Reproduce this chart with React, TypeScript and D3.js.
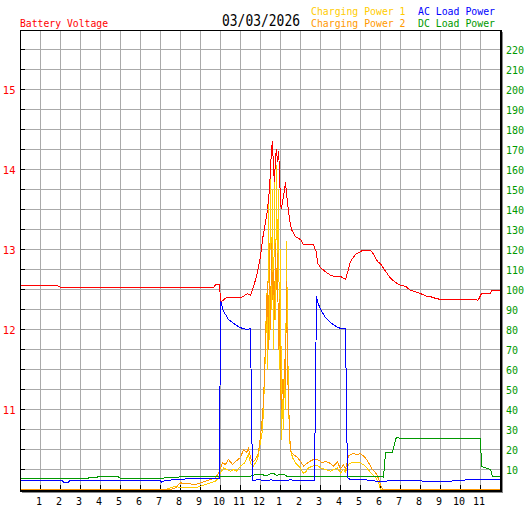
import * as d3 from 'd3'

// hour of day -> value
const voltage: [number, number][] = [
  [0, 12.55], [1.85, 12.55], [1.9, 12.535], [2.1, 12.525], [9.65, 12.525], [9.75, 12.56],
  [9.95, 12.56], [10.0, 12.37], [10.05, 12.35], [10.3, 12.4], [11.0, 12.4], [11.15, 12.415],
  [11.35, 12.45], [11.5, 12.425], [11.65, 12.54], [11.8, 12.66], [12.0, 12.91], [12.1, 13.125],
  [12.25, 13.34], [12.35, 13.5], [12.45, 13.75], [12.5, 14.0], [12.55, 14.25], [12.6, 14.35],
  [12.65, 14.0], [12.7, 13.84], [12.75, 14.16], [12.8, 14.25], [12.85, 14.1], [12.9, 14.23],
  [12.95, 14.0], [13.0, 13.54], [13.05, 13.52], [13.15, 13.66], [13.25, 13.84], [13.3, 13.7],
  [13.45, 13.375], [13.55, 13.25], [13.75, 13.16], [14.0, 13.125], [14.15, 13.06], [14.65, 13.06],
  [14.8, 12.96], [14.85, 12.83], [15.0, 12.775], [15.25, 12.72], [15.5, 12.68], [15.75, 12.66],
  [16.0, 12.665], [16.25, 12.625], [16.35, 12.71], [16.5, 12.85], [16.75, 12.94], [17.0, 12.97],
  [17.1, 12.99], [17.5, 12.99], [17.65, 12.94], [17.85, 12.85], [18.0, 12.82], [18.25, 12.73],
  [18.5, 12.64], [18.75, 12.59], [19.0, 12.55], [19.25, 12.54], [19.5, 12.49], [19.75, 12.47],
  [20.0, 12.45], [20.25, 12.42], [20.5, 12.41], [20.75, 12.39], [21.0, 12.375], [22.8, 12.375],
  [22.85, 12.36], [22.9, 12.375], [23.05, 12.45], [23.5, 12.45], [23.55, 12.49], [24, 12.49],
]

const chargingPower1: [number, number][] = [
  [0, 0], [7.25, 0], [7.5, 0.8], [7.75, 1.7], [8.0, 0.8], [8.75, 0.8], [9.0, 1.7], [9.25, 2.5],
  [9.5, 3.3], [9.75, 4.2], [9.9, 5.8], [10.0, 8.3], [10.15, 10.8], [10.3, 10], [10.5, 9.2],
  [10.65, 10], [10.8, 9.2], [11.0, 11.7], [11.2, 13.3], [11.4, 17.5], [11.5, 13], [11.65, 11.7],
  [11.85, 15], [12.0, 23.5], [12.1, 30], [12.15, 40], [12.2, 55], [12.25, 70], [12.3, 98],
  [12.35, 60], [12.4, 144], [12.45, 75], [12.5, 164], [12.55, 90], [12.6, 150], [12.65, 70],
  [12.7, 158], [12.75, 85], [12.8, 162], [12.85, 110], [12.9, 150], [12.95, 60], [13.0, 120],
  [13.05, 25], [13.1, 45], [13.15, 30], [13.2, 60], [13.25, 40], [13.3, 124], [13.35, 80],
  [13.4, 45], [13.45, 26], [13.5, 20], [13.6, 16], [13.75, 13.3], [14.0, 10.8], [14.15, 8],
  [14.25, 8.7], [14.4, 10.8], [14.6, 11.7], [14.85, 12], [15.0, 10.8], [15.25, 10], [15.5, 9.2],
  [15.65, 10], [15.85, 10.8], [16.0, 8.3], [16.15, 10], [16.25, 8.7], [16.4, 12.5], [16.6, 13.7],
  [16.85, 13.3], [17.0, 13.3], [17.25, 11.7], [17.5, 8.5], [17.75, 6], [17.9, 3.5], [18.0, 0],
  [24, 0],
]

const chargingPower2: [number, number][] = [
  [0, 0], [7.5, 0], [7.75, 0.8], [7.9, 2.5], [8.0, 3.3], [8.75, 2.5], [9.0, 3.3], [9.25, 4.2],
  [9.5, 5], [9.75, 5.8], [9.9, 8.3], [10.0, 10.8], [10.1, 13.3], [10.25, 12.5], [10.4, 15],
  [10.6, 12.5], [10.75, 14], [11.0, 16], [11.15, 20], [11.3, 18.5], [11.4, 20.5], [11.5, 16],
  [11.6, 13.5], [11.75, 15], [11.9, 18.5], [12.0, 26.5], [12.1, 36.5], [12.15, 45], [12.2, 57],
  [12.25, 75], [12.3, 90], [12.35, 104], [12.4, 70], [12.45, 123], [12.5, 80], [12.55, 123],
  [12.6, 95], [12.65, 110], [12.7, 85], [12.75, 123], [12.8, 100], [12.85, 118], [12.9, 70],
  [12.95, 95], [13.0, 50], [13.05, 40], [13.1, 55], [13.15, 45], [13.2, 65], [13.25, 50],
  [13.3, 104], [13.35, 60], [13.4, 45], [13.45, 30], [13.5, 19], [13.65, 17.5], [13.85, 16],
  [14.0, 14], [14.15, 11.7], [14.25, 12.5], [14.4, 13.7], [14.65, 15], [14.9, 14.7], [15.1, 13.3],
  [15.25, 14.2], [15.5, 13], [15.65, 11.7], [15.85, 13.7], [16.0, 10.3], [16.15, 12.5], [16.25, 10],
  [16.4, 16.7], [16.6, 18], [16.85, 17.5], [17.0, 18], [17.25, 15.8], [17.4, 13.5], [17.6, 10],
  [17.75, 8.5], [17.85, 6.7], [18.0, 2.5], [18.1, 0], [24, 0],
]

const acLoadPower: [number, number][] = [
  [0, 4.3], [2.1, 4.3], [2.15, 3.7], [2.4, 3.7], [2.45, 4.3], [7.0, 4.3], [7.05, 3.7], [7.2, 4.3],
  [7.5, 4.5], [7.6, 5.2], [9.0, 5.3], [9.95, 5.3], [10.0, 95], [10.05, 93.5], [10.1, 90],
  [10.25, 87.5], [10.4, 85], [10.6, 83.5], [10.85, 81.7], [11.1, 80.5], [11.35, 80], [11.5, 80.5],
  [11.55, 42], [11.6, 4.7], [12.0, 4.8], [12.2, 4.3], [12.5, 4.8], [13.0, 4.5], [13.5, 4.8],
  [14.0, 4.5], [14.7, 4.7], [14.75, 50], [14.8, 96.7], [14.85, 94], [15.0, 90], [15.25, 86],
  [15.5, 83.5], [15.75, 81.7], [16.0, 80.5], [16.25, 80.5], [16.3, 42], [16.35, 6], [16.5, 4.8],
  [17.0, 5], [17.5, 4.6], [17.75, 4.2], [19.0, 4.3], [21.0, 4.2], [22.2, 4.3], [22.25, 5], [24, 5],
]

const dcLoadPower: [number, number][] = [
  [0, 5.3], [1.4, 5.3], [1.5, 5.7], [1.6, 5.3], [3.0, 5.3], [3.9, 6.3], [4.9, 6.3], [5.0, 5.6],
  [7.0, 5.6], [7.5, 6], [8.0, 6.3], [9.0, 6.5], [9.5, 6.7], [11.5, 6.7], [11.6, 7.2], [12.0, 7.5],
  [12.3, 7.0], [12.5, 7.8], [12.65, 8], [12.8, 7.2], [13.2, 7.5], [13.3, 6.7], [18.1, 6.7],
  [18.15, 6.0], [18.25, 18.5], [18.6, 18.5], [18.7, 22.5], [18.75, 25.3], [18.8, 25.8],
  [19.0, 25.7], [23.0, 25.7], [23.05, 11.7], [23.15, 11.2], [23.5, 10], [23.6, 6.3], [24, 6.3],
]

const hourLabels = ['1', '2', '3', '4', '5', '6', '7', '8', '9', '10', '11', '12',
  '1', '2', '3', '4', '5', '6', '7', '8', '9', '10', '11']
const voltTicks = [11, 12, 13, 14, 15]
const powerTicks = d3.range(10, 230, 10)

const FONT = "'DejaVu Sans Mono', monospace"

export default function App() {
  const x = d3.scaleLinear().domain([0, 24]).range([20.5, 500.5])
  const yV = d3.scaleLinear().domain([10, 15.75]).range([489.5, 29.5])
  const yP = d3.scaleLinear().domain([0, 230]).range([489.5, 29.5])

  const lineV = d3.line<[number, number]>().x((d) => x(d[0])).y((d) => yV(d[1]))
  const lineP = d3.line<[number, number]>().x((d) => x(d[0])).y((d) => yP(d[1]))

  const gridX = d3.range(1, 24).map((h) => x(h))
  const gridY = d3.range(10, 230, 10).map((p) => yP(p))

  const series = [
    { data: chargingPower1, color: '#ffcc00' },
    { data: chargingPower2, color: '#ff9900' },
    { data: dcLoadPower, color: '#009900' },
    { data: acLoadPower, color: '#0000ff' },
  ]

  return (
    <svg width={527} height={510} style={{ position: 'fixed', left: 0, top: 0, background: '#fff' }}
      shapeRendering="crispEdges" fontFamily={FONT}>
      <rect x={0} y={0} width={527} height={510} fill="#fff" />

      {/* grid */}
      {gridX.map((gx, i) => (
        <line key={'gx' + i} x1={gx} x2={gx} y1={30} y2={490} stroke="#aaaaaa" />
      ))}
      {gridY.map((gy, i) => (
        <line key={'gy' + i} x1={20} x2={500} y1={gy} y2={gy} stroke="#aaaaaa" />
      ))}

      {/* small ticks */}
      {gridY.map((gy, i) => (
        <line key={'ty' + i} x1={20} x2={25} y1={gy} y2={gy} stroke="#000" />
      ))}
      {gridX.map((gx, i) => (
        <line key={'tx' + i} x1={gx} x2={gx} y1={485} y2={490} stroke="#000" />
      ))}

      {/* data */}
      {series.map((s, i) => (
        <path key={'s' + i} d={lineP(s.data) ?? ''} fill="none" stroke={s.color} strokeWidth={1} />
      ))}
      <path d={lineV(voltage) ?? ''} fill="none" stroke="#ff0000" strokeWidth={1} />

      {/* frame with shadow */}
      <line x1={20.5} x2={20.5} y1={30} y2={491} stroke="#000" />
      <line x1={20} x2={502} y1={30.5} y2={30.5} stroke="#000" />
      <line x1={501} x2={501} y1={30} y2={492} stroke="#000" strokeWidth={2} />
      <line x1={502.5} x2={502.5} y1={32} y2={493} stroke="#888" />
      <line x1={20} x2={502} y1={491} y2={491} stroke="#000" strokeWidth={2} />
      <line x1={22} x2={503} y1={492.5} y2={492.5} stroke="#888" />

      {/* axis labels */}
      {voltTicks.map((v) => (
        <text key={'v' + v} x={15.5} y={yV(v) + 4} textAnchor="end" fontSize={10.5} fill="#ff0000">{v}</text>
      ))}
      {powerTicks.map((p) => (
        <text key={'p' + p} x={506} y={yP(p) + 4} fontSize={10} fill="#009900">{p}</text>
      ))}
      {hourLabels.map((lab, i) => (
        <text key={'h' + i} x={x(i + 1) - 1.5} y={505} textAnchor="middle" fontSize={10} fill="#000">{lab}</text>
      ))}

      {/* header */}
      <text x={20} y={26.5} fontSize={10} fill="#ff0000" textLength={88} lengthAdjust="spacingAndGlyphs">Battery Voltage</text>
      <text x={222} y={26} fontSize={15} fill="#000" textLength={78} lengthAdjust="spacingAndGlyphs">03/03/2026</text>
      <text x={311} y={15} fontSize={10} fill="#ffcc00" textLength={94.5} lengthAdjust="spacingAndGlyphs">Charging Power 1</text>
      <text x={311} y={27} fontSize={10} fill="#ff9900" textLength={94.5} lengthAdjust="spacingAndGlyphs">Charging Power 2</text>
      <text x={418} y={15} fontSize={10} fill="#0000ff" textLength={77} lengthAdjust="spacingAndGlyphs">AC Load Power</text>
      <text x={418} y={27} fontSize={10} fill="#009900" textLength={77} lengthAdjust="spacingAndGlyphs">DC Load Power</text>
    </svg>
  )
}
